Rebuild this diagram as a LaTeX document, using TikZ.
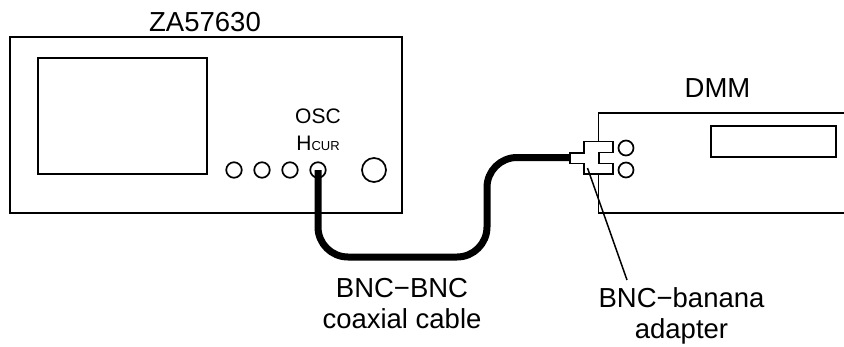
\documentclass[tikz,border=0pt]{standalone}
\usepackage{fontspec}
\setmainfont{Liberation Sans}
\tikzset{
  outline/.style={draw=black,line width=1.7pt,fill=none},
  jack/.style={circle,draw=black,line width=1.7pt,minimum size=#1,inner sep=0pt,fill=white},
  cable/.style={draw=black,line width=7pt,rounded corners=30pt},
  leader/.style={draw=black,line width=1.5pt},
  lbl/.style={inner sep=0pt,anchor=base,font=\fontsize{27.5}{32}\selectfont},
  lblsmall/.style={inner sep=0pt,anchor=base,font=\fontsize{21}{24}\selectfont}
}
\begin{document}
\begin{tikzpicture}[x=1pt,y=-1pt]
\useasboundingbox (0,0) rectangle (844,346);
\fill[white] (0,0) rectangle (844,346);
% instrument
\draw[outline] (10,37) rectangle (402,213);
\draw[outline] (38,58) rectangle (207,174);
\node[lbl] (za) at (205,31) {ZA57630};
\node[lblsmall] (osc) at (318,123) {OSC};
\node[lblsmall] (hcur) at (318,150) {H{\fontsize{13}{16}\selectfont CUR}};
\node[jack=15.5pt] (j1) at (234,170) {};
\node[jack=15.5pt] (j2) at (262,170) {};
\node[jack=15.5pt] (j3) at (290,170) {};
\node[jack=15.5pt] (j4) at (318,170) {};
\node[jack=24pt] (j5) at (374,170) {};
% DMM
\draw[outline] (844,213) -- (598.5,213) -- (598.5,113) -- (844,113);
\draw[outline] (711,126) rectangle (836,157);
\node[lbl] (dmm) at (717.5,97) {DMM};
\node[jack=15pt] (d1) at (626,148) {};
\node[jack=15pt] (d2) at (626,170) {};
% cable
\coordinate (c0) at (318,170);
\coordinate (c1) at (318,257);
\coordinate (c2) at (487,257);
\coordinate (c3) at (487,157.5);
\coordinate (adapterIn) at (571,157.5);
\draw[cable] (c0) -- (c1) -- (c2) -- (c3) -- (adapterIn);
% adapter
\draw[outline,fill=white,line width=1.6pt] (570,152.7) -- (584,152.7) -- (584,141.3) -- (612.7,141.3) -- (612.7,152.5) -- (598.7,152.5) -- (598.7,163.3) -- (612.7,163.3) -- (612.7,174) -- (584,174) -- (584,163.3) -- (570,163.3) -- cycle;
\coordinate (adapterTip) at (587.5,168);
% labels
\node[lbl] (bnc1) at (402,297) {BNC−BNC};
\node[lbl] (bnc2) at (402,328) {coaxial cable};
\node[lbl] (ban1) at (681.5,307) {BNC−banana};
\node[lbl] (ban2) at (681.5,338) {adapter};
\coordinate (leaderEnd) at (627,280);
\draw[leader] (adapterTip) -- (leaderEnd);
\end{tikzpicture}
\end{document}
